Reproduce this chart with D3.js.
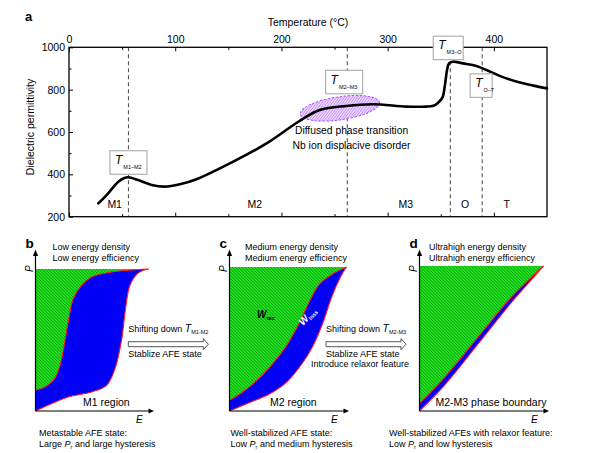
<!DOCTYPE html>
<html>
<head>
<meta charset="utf-8">
<script src="https://cdn.jsdelivr.net/npm/d3@7"></script>
<style>
  body { margin: 0; background: #fff; }
  svg { font-family: "Liberation Sans", Arial, sans-serif; }
</style>
</head>
<body>
<div id="chart"></div>
<script>
// ---- panel a data ----
const tempTicks = [0, 100, 200, 300, 400];
const tempMinor = [50, 150, 250, 350];
const permTicks = [200, 400, 600, 800, 1000];
const permMinor = [300, 500, 700, 900];
const curveT   = [27.6, 35.4, 41.6, 46.4, 52.7, 56, 65, 77.8, 90, 104.4, 120, 154.6, 186, 217, 236, 261, 286, 317.6, 336, 343, 347, 351.5, 354, 355.9, 357.8, 361, 371, 383.5, 393, 405.5, 421, 437, 450];
const curveEps = [263, 302, 339, 365, 384, 386, 373, 350, 342, 353, 377, 460, 546, 652, 704, 723, 731, 720, 720, 724, 736, 762, 825, 893, 924, 932, 924, 912, 893, 865, 838, 819, 806];
const transT = [56, 262, 359, 389];
const transSub = ["M1\u2013M2", "M2\u2013M3", "M3\u2013O", "O\u2013T"];
const boxT = [56, 259, 357, 388];
const boxEps = [456, 836, 997, 819];
const boxW = [37, 37, 30, 22];
const phaseNames = ["M1", "M2", "M3", "O", "T"];
const phaseT = [43, 175, 317, 373, 412];

// ---- panels b, c, d data (normalised E, P) ----
const bUpper = [[0,0.146],[0.083,0.169],[0.171,0.23],[0.216,0.32],[0.254,0.462],[0.289,0.626],[0.334,0.79],[0.408,0.885],[0.497,0.944],[0.675,0.979],[1,1]];
const bLower = [[0,0],[0.112,0.04],[0.289,0.099],[0.497,0.134],[0.63,0.181],[0.704,0.299],[0.764,0.51],[0.793,0.698],[0.838,0.889],[0.911,0.973],[1,1]];
const cUpper = [[0,0.074],[0.091,0.12],[0.204,0.19],[0.346,0.306],[0.489,0.456],[0.6,0.616],[0.687,0.767],[0.772,0.884],[0.886,0.954],[1,1]];
const cLower = [[0,0],[0.148,0.051],[0.346,0.12],[0.489,0.201],[0.63,0.34],[0.716,0.456],[0.801,0.618],[0.858,0.757],[0.915,0.873],[0.972,0.965],[1,1]];
const dUpper = [[0,0.051],[0.194,0.224],[0.463,0.5],[0.731,0.776],[0.892,0.914],[1,1]];
const dLower = [[0,0],[0.194,0.17],[0.463,0.452],[0.731,0.738],[0.892,0.895],[1,1]];

const svg = d3.select("#chart").append("svg")
    .attr("width", 604)
    .attr("height", 453);

const defs = svg.append("defs");
let green = defs.append("pattern").attr("id", "greenHatch")
    .attr("patternUnits", "userSpaceOnUse").attr("width", 3.2).attr("height", 3.2);
green.append("rect").attr("width", 3.2).attr("height", 3.2).attr("fill", "#1ee61e");
green.append("path").attr("d", "M0,0L3.2,3.2M-1,2.2L1,4.2M2.2,-1L4.2,1")
    .attr("stroke", "#0b6e0b").attr("stroke-width", 0.7);
let purple = defs.append("pattern").attr("id", "purpleHatch")
    .attr("patternUnits", "userSpaceOnUse").attr("width", 3).attr("height", 3);
purple.append("rect").attr("width", 3).attr("height", 3).attr("fill", "#f0e0ff");
purple.append("path").attr("d", "M0,3L3,0M-1,1L1,-1M2,4L4,2")
    .attr("stroke", "#b36bff").attr("stroke-width", 0.9);

/* ---------- panel a ---------- */
let x = d3.scaleLinear().domain([0, 450]).range([69, 547]);
let y = d3.scaleLinear().domain([200, 1000]).range([216.7, 47.3]);

let a = svg.append("g");

// dashed transition lines
a.selectAll(".trans").data(transT).enter().append("line")
    .attr("x1", d => x(d)).attr("x2", d => x(d))
    .attr("y1", y(1000)).attr("y2", y(200))
    .attr("stroke", "#555").attr("stroke-width", 1.1)
    .attr("stroke-dasharray", "4,3");

// diffuse ellipse
a.append("ellipse")
    .attr("cx", x(255)).attr("cy", y(712))
    .attr("rx", 40).attr("ry", 11.5)
    .attr("transform", `rotate(-8.5, ${x(255)}, ${y(712)})`)
    .attr("fill", "url(#purpleHatch)")
    .attr("stroke", "#a855f7").attr("stroke-width", 1)
    .attr("stroke-dasharray", "2.5,1.5");

let line = d3.line()
    .x(d => x(d[0]))
    .y(d => y(d[1]))
    .curve(d3.curveCatmullRom.alpha(0.5));

a.append("path")
    .attr("d", line(d3.zip(curveT, curveEps)))
    .attr("fill", "none").attr("stroke", "#000").attr("stroke-width", 2.6)
    .attr("stroke-linecap", "round");

// axes
a.append("g").attr("transform", `translate(0, ${y(1000)})`)
    .call(d3.axisTop(x).tickValues(tempTicks).tickSize(-4).tickPadding(4).tickFormat(d3.format("d")));
a.append("g").attr("transform", `translate(0, ${y(1000)})`)
    .call(d3.axisTop(x).tickValues(tempMinor).tickSize(-2.5).tickFormat(""));
a.append("g").attr("transform", `translate(0, ${y(200)})`)
    .call(d3.axisBottom(x).tickValues(tempTicks).tickSize(-4).tickFormat(""));
a.append("g").attr("transform", `translate(0, ${y(200)})`)
    .call(d3.axisBottom(x).tickValues(tempMinor).tickSize(-2.5).tickFormat(""));
a.append("g").attr("transform", `translate(${x(0)}, 0)`)
    .call(d3.axisLeft(y).tickValues(permTicks).tickSize(-4).tickPadding(4).tickFormat(d3.format("d")));
a.append("g").attr("transform", `translate(${x(0)}, 0)`)
    .call(d3.axisLeft(y).tickValues(permMinor).tickSize(-2.5).tickFormat(""));
a.selectAll(".domain").remove();
a.selectAll(".tick text").attr("font-size", 10.5).attr("fill", "#000")
    .attr("font-family", "Liberation Sans, Arial, sans-serif");

a.append("rect")
    .attr("x", x(0)).attr("y", y(1000))
    .attr("width", x(450) - x(0)).attr("height", y(200) - y(1000))
    .attr("fill", "none").attr("stroke", "#000").attr("stroke-width", 1.3);

a.append("text").attr("x", 308).attr("y", 26)
    .attr("text-anchor", "middle").attr("font-size", 10.5)
    .text("Temperature (\u00b0C)");
a.append("text")
    .attr("transform", "translate(34, 127) rotate(-90)")
    .attr("text-anchor", "middle").attr("font-size", 10.5)
    .text("Dielectric permittivity");
svg.append("text").attr("x", 25).attr("y", 20.5)
    .attr("font-size", 13).attr("font-weight", "bold").text("a");

// phase labels
a.selectAll(".phase").data(phaseNames).enter().append("text")
    .attr("x", (d, i) => x(phaseT[i])).attr("y", 207.5)
    .attr("text-anchor", "middle").attr("font-size", 10.5)
    .text(d => d);

// transition label boxes
transSub.forEach(function(s, i) {
  let cx = x(boxT[i]), cy = y(boxEps[i]), w = boxW[i], h = 23.5;
  let g = a.append("g");
  g.append("rect").attr("x", cx - w / 2).attr("y", cy - h / 2)
      .attr("width", w).attr("height", h)
      .attr("fill", "#fff").attr("stroke", "#aaa").attr("stroke-width", 1.1);
  let t = g.append("text").attr("x", cx - w / 2 + 5).attr("y", cy + 1.5);
  t.append("tspan").attr("font-style", "italic").attr("font-size", 12).text("T");
  t.append("tspan").attr("font-size", 5.5).attr("dy", 5).attr("dx", 1).text(s);
});

a.append("text").attr("x", x(266)).attr("y", y(590))
    .attr("text-anchor", "middle").attr("font-size", 10.3)
    .text("Diffused phase transition");
a.append("text").attr("x", x(266)).attr("y", y(519))
    .attr("text-anchor", "middle").attr("font-size", 10.3)
    .text("Nb ion displacive disorder");

/* ---------- panels b, c, d ---------- */
const panels = [
  { letter: "b", upper: bUpper, lower: bLower, ox: 35.5, oy: 411, w: 113, h: 142, axR: 154,
    head: ["Low energy density", "Low energy efficiency"], hx: 52.5,
    region: "M1 region", rx: 83,
    foot: ["Metastable AFE state:", ["Large ", " and large hysteresis"]], fx: 39 },
  { letter: "c", upper: cUpper, lower: cLower, ox: 229.5, oy: 411, w: 117, h: 144, axR: 349,
    head: ["Medium energy density", "Medium energy efficiency"], hx: 245,
    region: "M2 region", rx: 270,
    foot: ["Well-stabilized AFE state:", ["Low ", " and medium hysteresis"]], fx: 230.5 },
  { letter: "d", upper: dUpper, lower: dLower, ox: 419.5, oy: 411, w: 124, h: 145, axR: 549,
    head: ["Ultrahigh energy density", "Ultrahigh energy efficiency"], hx: 429,
    region: "M2-M3 phase boundary", rx: 435.5,
    foot: ["Well-stabilized AFEs with relaxor feature:", ["Low ", " and low hysteresis"]], fx: 389 }
];

panels.forEach(function(p) {
  let ex = d3.scaleLinear().domain([0, 1]).range([p.ox, p.ox + p.w]);
  let py = d3.scaleLinear().domain([0, 1]).range([p.oy, p.oy - p.h]);
  let g = svg.append("g");
  let pts = arr => arr.map(d => [ex(d[0]), py(d[1])]);
  let curve = d3.line().curve(d3.curveCatmullRom.alpha(0.5));
  let up = curve(pts(p.upper));
  let upRev = curve(pts(p.upper.slice().reverse()));
  let lowRev = curve(pts(p.lower.slice().reverse()));

  // green recoverable area
  g.append("path")
      .attr("d", `M${ex(0)},${py(1)}L${ex(1)},${py(1)}` + upRev.replace(/^M/, "L") + "Z")
      .attr("fill", "url(#greenHatch)");
  // blue loss area
  g.append("path")
      .attr("d", up + lowRev.replace(/^M/, "L") + "Z")
      .attr("fill", "#0000f5")
      .attr("stroke", "none");
  g.append("path").attr("d", up).attr("fill", "none")
      .attr("stroke", "#ff1a1a").attr("stroke-width", 1.1);
  g.append("path").attr("d", lowRev).attr("fill", "none")
      .attr("stroke", "#ff1a1a").attr("stroke-width", 1.1);

  // axes with arrow heads
  g.append("line").attr("x1", p.ox).attr("x2", p.ox).attr("y1", p.oy).attr("y2", 254)
      .attr("stroke", "#000").attr("stroke-width", 1.2);
  g.append("path").attr("d", `M${p.ox - 2.6},${256}L${p.ox},${249.5}L${p.ox + 2.6},${256}Z`).attr("fill", "#000");
  g.append("line").attr("x1", p.ox).attr("x2", p.axR - 3).attr("y1", p.oy).attr("y2", p.oy)
      .attr("stroke", "#000").attr("stroke-width", 1.2);
  g.append("path").attr("d", `M${p.axR - 5.5},${p.oy - 2.6}L${p.axR},${p.oy}L${p.axR - 5.5},${p.oy + 2.6}Z`).attr("fill", "#000");

  g.append("text").attr("transform", `translate(${p.ox - 3}, 272) rotate(-90)`)
      .attr("font-style", "italic").attr("font-size", 10).text("P");
  g.append("text").attr("x", p.axR - 18).attr("y", 422.5)
      .attr("font-style", "italic").attr("font-size", 10).text("E");

  g.append("text").attr("x", p.ox - 10).attr("y", 247.5)
      .attr("font-weight", "bold").attr("font-size", 13.5).text(p.letter);
  g.append("text").attr("x", p.hx).attr("y", 249.5).attr("font-size", 9).text(p.head[0]);
  g.append("text").attr("x", p.hx).attr("y", 260.5).attr("font-size", 9).text(p.head[1]);
  g.append("text").attr("x", p.rx).attr("y", 405.5).attr("font-size", 10.5).text(p.region);
  g.append("text").attr("x", p.fx).attr("y", 435.5).attr("font-size", 9).text(p.foot[0]);
  let f = g.append("text").attr("x", p.fx).attr("y", 446.5).attr("font-size", 9);
  f.append("tspan").text(p.foot[1][0]);
  f.append("tspan").attr("font-style", "italic").text("P");
  f.append("tspan").attr("font-size", 5.5).attr("dy", 2).text("r");
  f.append("tspan").attr("dy", -2).text(p.foot[1][1]);
});

// W labels in panel c
let wr = svg.append("text").attr("x", 257).attr("y", 318)
    .attr("font-weight", "bold").attr("font-style", "italic").attr("font-size", 10);
wr.append("tspan").text("W");
wr.append("tspan").attr("font-size", 5.5).attr("dy", 2).attr("font-style", "normal").text("rec");
let wl = svg.append("text").attr("transform", "translate(303, 326) rotate(-47)")
    .attr("font-weight", "bold").attr("font-style", "italic").attr("font-size", 10)
    .attr("fill", "#fff");
wl.append("tspan").text("W");
wl.append("tspan").attr("font-size", 5.5).attr("dy", 2).attr("font-style", "normal").text("loss");

// hollow arrows between panels
const arrows = [
  { x0: 128.3, x1: 208.3, sub: "M1-M2", lines: ["Stablize AFE state"] },
  { x0: 326, x1: 406, sub: "M2-M3", lines: ["Stablize AFE state", "Introduce relaxor feature"] }
];
arrows.forEach(function(ar) {
  let cy = 344.2;
  svg.append("path")
      .attr("d", `M${ar.x0},${cy - 2.5}L${ar.x1 - 5},${cy - 2.5}L${ar.x1 - 5},${cy - 5.5}L${ar.x1},${cy}` +
                 `L${ar.x1 - 5},${cy + 5.5}L${ar.x1 - 5},${cy + 2.5}L${ar.x0},${cy + 2.5}Z`)
      .attr("fill", "#fff").attr("stroke", "#444").attr("stroke-width", 0.9);
  let t = svg.append("text").attr("x", ar.x0).attr("y", 331.5).attr("font-size", 9);
  t.append("tspan").text("Shifting down ");
  t.append("tspan").attr("font-style", "italic").attr("font-size", 10.5).text("T");
  t.append("tspan").attr("font-size", 5.5).attr("dy", 2).text(ar.sub);
  svg.append("text").attr("x", ar.x0).attr("y", 356.5).attr("font-size", 9).text(ar.lines[0]);
  if (ar.lines[1]) {
    svg.append("text").attr("x", (ar.x0 + ar.x1) / 2 - 6).attr("y", 366.5)
        .attr("text-anchor", "middle").attr("font-size", 9).text(ar.lines[1]);
  }
});
</script>
</body>
</html>
